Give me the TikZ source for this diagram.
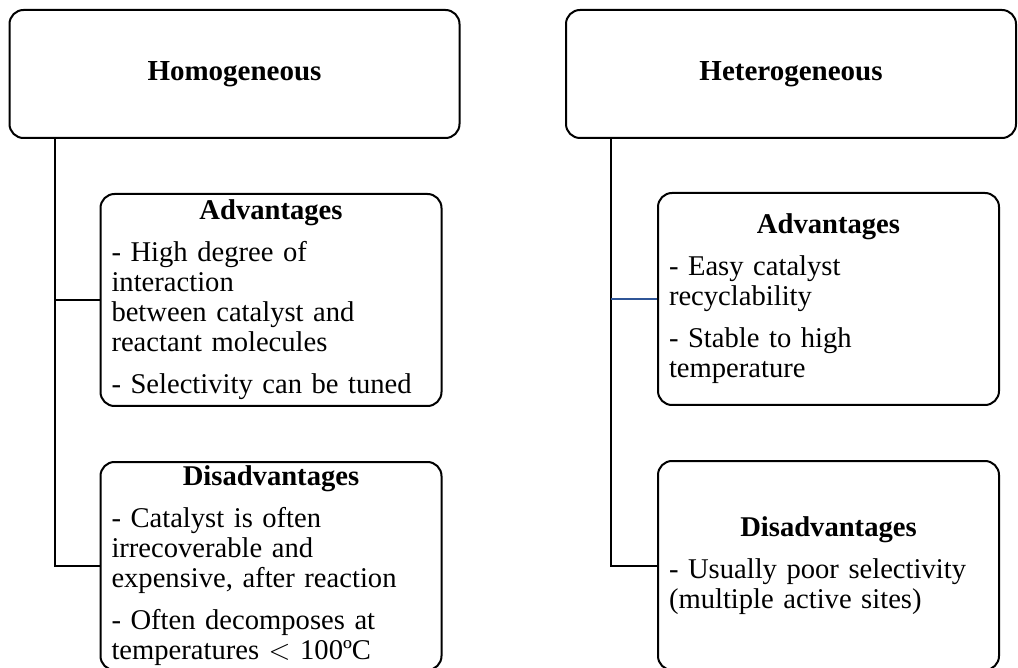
\documentclass[tikz,border=0pt]{standalone}
\usepackage{fontspec}
\setmainfont{Liberation Serif}
\usepackage{tikz}
\usetikzlibrary{positioning}
\definecolor{linkblue}{RGB}{47,85,151}

\begin{document}
\begin{tikzpicture}[
	x=0.5pt, y=-0.5pt,
	group/.style={rectangle, rounded corners=7pt, draw=black, line width=1pt, minimum width=225pt, minimum height=64pt, font=\fontsize{14.5}{15}\selectfont\bfseries},
	detail/.style={rectangle, rounded corners=7pt, draw=black, line width=1pt, text width=159.5pt, inner xsep=5.5pt, inner ysep=2pt, align=left, font=\fontsize{14.3}{15}\selectfont, execute at begin node={\setlength{\parskip}{6pt}}},
	link/.style={draw=black, line width=1pt}
	]
	\useasboundingbox (0,0) rectangle (1018,668);
	
	% homogeneous side
	\node[group] (homo) at (234.5,74) {Homogeneous};
	\node[detail, minimum height=106pt] (homoadv) [below right=27pt and 45.5pt of homo.south west] {{\centering\bfseries Advantages\par}- High degree of\\interaction\\between catalyst and\\reactant molecules\par- Selectivity can be tuned};
	\node[detail, minimum height=104pt] (homodis) [below=27pt of homoadv] {{\centering\bfseries Disadvantages\par}- Catalyst is often\\irrecoverable and\\expensive, after reaction\par- Often decomposes at\\temperatures $<$ 100ºC};
	
	% heterogeneous side
	\node[group] (hetero) at (791,74) {Heterogeneous};
	\node[detail, minimum height=106pt] (heteroadv) [below right=26.5pt and 46pt of hetero.south west] {{\centering\bfseries Advantages\par}- Easy catalyst\\recyclability\par- Stable to high\\temperature};
	\node[detail, minimum height=104.5pt] (heterodis) [below=27pt of heteroadv] {{\centering\bfseries Disadvantages\par}- Usually poor selectivity\\(multiple active sites)};
	
	% trunks and branches
	\coordinate (homotrunk) at ([xshift=23pt]homo.south west);
	\coordinate (heterotrunk) at ([xshift=23pt]hetero.south west);
	\draw[link] (homotrunk) |- (homoadv.west);
	\draw[link] (homotrunk) |- (homodis.west);
	\draw[link] (heterotrunk) |- (heterodis.west);
	\draw[link, draw=linkblue] (heterotrunk |- heteroadv.west) -- (heteroadv.west);
\end{tikzpicture}
\end{document}
